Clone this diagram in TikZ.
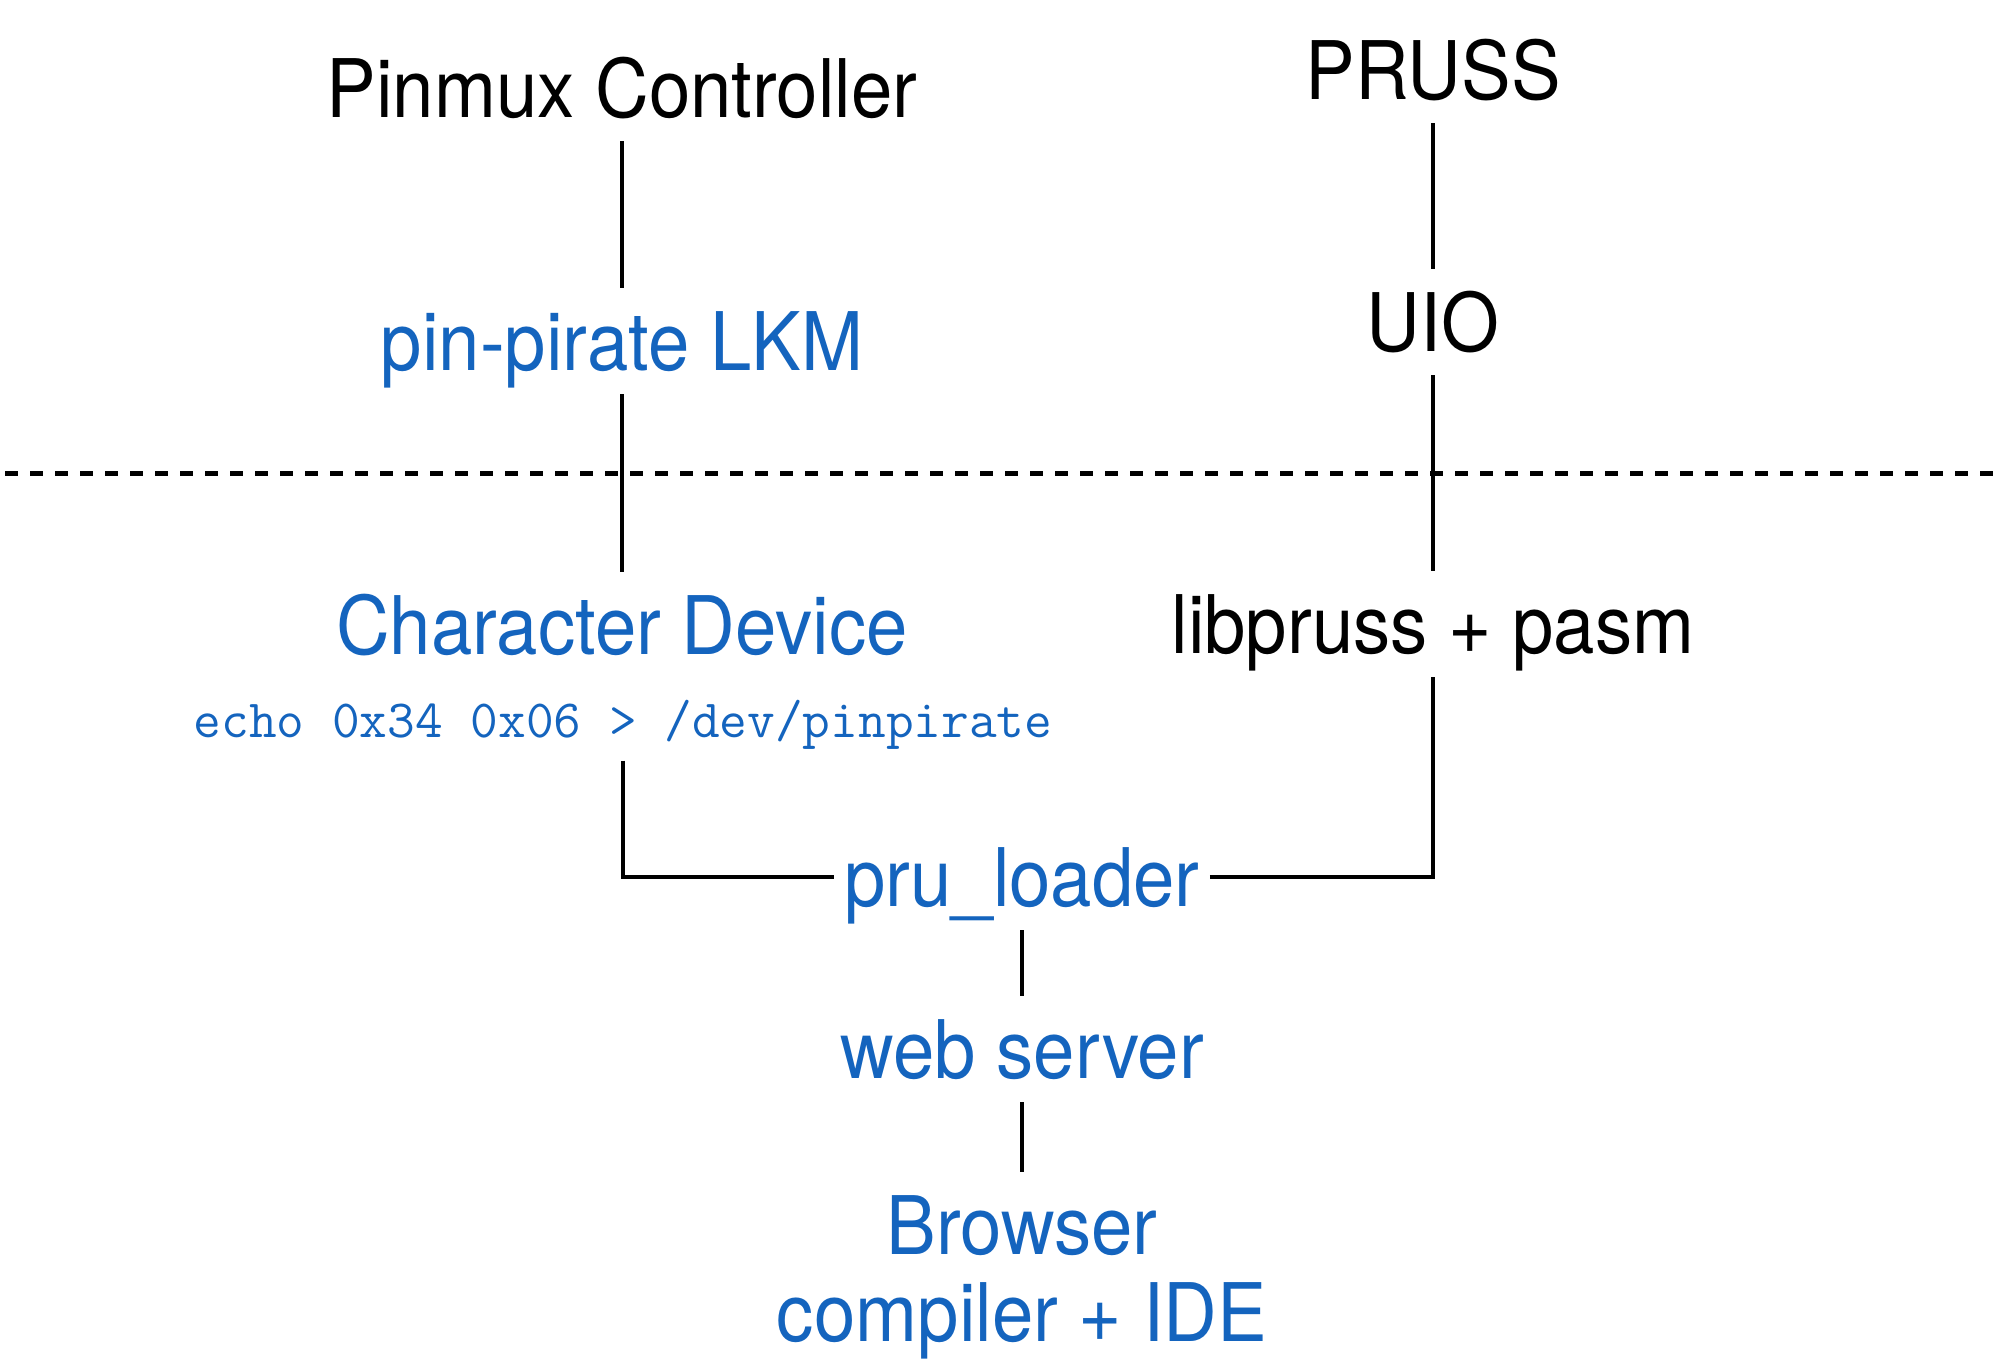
\documentclass[tikz,border=0pt]{standalone}
\usepackage{fontspec}
\setmainfont{TeX Gyre Heros}[FakeStretch=0.92]
\usepackage{tikz}
\definecolor{userblue}{RGB}{20,100,190}

\begin{document}
\begin{tikzpicture}[line width=0.033cm,
  lbl/.style = {font=\fontsize{23}{26}\selectfont, text height=0.58cm, text depth=0pt, inner xsep=0.1cm, inner ysep=0.24cm, outer sep=0pt, anchor=base},
  kern/.style = {lbl, text=black},
  user/.style = {lbl, text=userblue},
  code/.style = {font=\ttfamily\fontsize{15.3}{17}\selectfont, text=userblue, text height=0.3cm, text depth=0pt, inner ysep=0.22cm, anchor=base}]
\useasboundingbox (0,0) rectangle (20,-13.62);
% kernel side
\node[kern] (pinmux) at (6.22,-1.17) {Pinmux Controller};
\node[user] (lkm) at (6.22,-3.70) {pin-pirate LKM};
\node[kern] (pruss) at (14.33,-0.99) {PRUSS};
\node[kern] (uio) at (14.33,-3.51) {UIO};
% user side
\node[user] (chardev) at (6.22,-6.54) {Character Device};
\node[code] (echo) at (6.23,-7.37) {echo 0x34 0x06 > /dev/pinpirate};
\node[kern] (libpruss) at (14.33,-6.53) {libpruss + pasm};
\node[user] (loader) at (10.22,-9.06) {pru\_loader};
\node[user] (server) at (10.22,-10.78) {web server};
\node[user, text height={}, text depth={}, align=center, anchor=north] (browser) at (10.22,-11.72) {Browser\\[-0.05cm]compiler + IDE};
% boundary
\coordinate (sepl) at (0.05,-4.73);
\coordinate (sepr) at (20,-4.73);
\draw[line width=0.05cm, dash pattern=on 0.13cm off 0.12cm] (sepl) -- (sepr);
\draw[-] (pinmux) -- (lkm);
\draw[-] (lkm) -- (chardev);
\draw[-] (pruss) -- (uio);
\draw[-] (uio) -- (libpruss);
\draw[-] (echo.south) |- (loader.west);
\draw[-] (loader.east) -| (libpruss.south);
\draw[-] (loader) -- (server);
\draw[-] (server) -- (browser);
\end{tikzpicture}
\end{document}
